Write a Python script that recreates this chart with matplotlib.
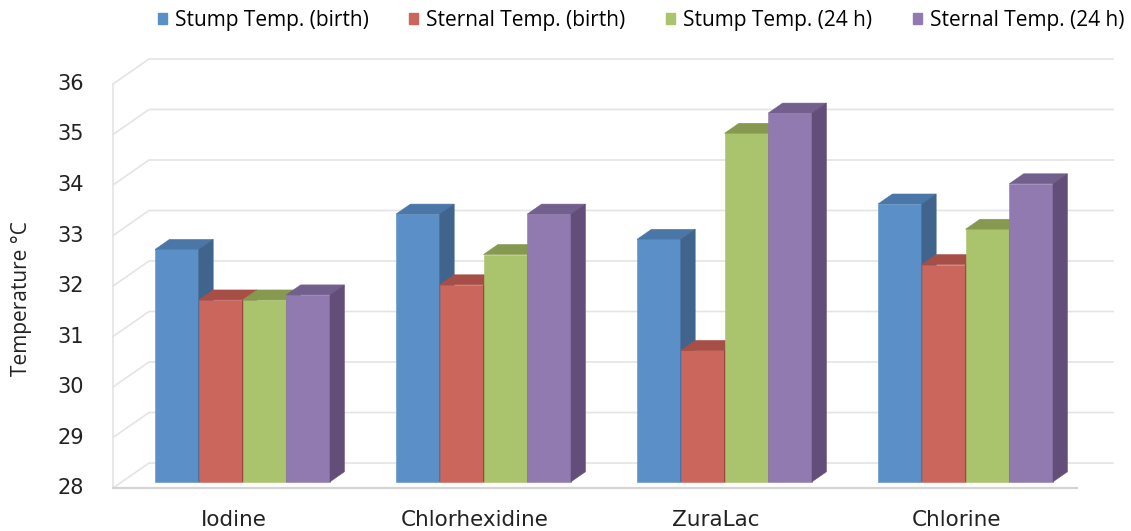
import matplotlib.pyplot as plt
from matplotlib.patches import Patch

categories = ['Iodine', 'Chlorhexidine', 'ZuraLac', 'Chlorine']
series = ['Stump Temp. (birth)', 'Sternal Temp. (birth)', 'Stump Temp. (24 h)', 'Sternal Temp. (24 h)']
stump_birth = [32.6, 33.3, 32.8, 33.5]
sternal_birth = [31.6, 31.9, 30.6, 32.3]
stump_24h = [31.6, 32.5, 34.9, 33.0]
sternal_24h = [31.7, 33.3, 35.3, 33.9]
yticks = list(range(28, 37))

values = [stump_birth, sternal_birth, stump_24h, sternal_24h]
# front, top, side colours per series
colors = [('#5b8fc7', '#4a76a8', '#41648d'),
          ('#cb665c', '#a74f47', '#8e4039'),
          ('#aac46d', '#86994e', '#72843f'),
          ('#917ab0', '#735f8d', '#634e7a')]

# oblique projection: full wall depth shifts right / up
DX, DY = 36 / 241, 25 / 50.5
D0, DB = 0.25, 0.4   # bar front depth and bar depth
W = 0.1815           # bar width
base = yticks[0]


def proj(x, v, d):
    return (x + d * DX, v + d * DY)


fig = plt.figure(figsize=(11.31, 5.31), dpi=100)
ax = fig.add_axes([0, 0, 1, 1])
ax.set_xlim(-0.969, 3.724)
ax.set_ylim(27.149, 37.663)
ax.axis('off')

left, right = -0.5, len(categories) - 0.5
grid_c = '#e4e4e4'
for v in yticks:
    pts = [proj(left, v, 0), proj(left, v, 1), proj(right, v, 1)]
    ax.plot([p[0] for p in pts], [p[1] for p in pts], color=grid_c, lw=1.2, zorder=1)
    ax.text(left - 0.12, v, str(v), ha='right', va='center', fontsize=15,
            family='DejaVu Sans', color='#222222')
ax.plot([left, left], [base, yticks[-1]], color=grid_c, lw=1.2, zorder=1)
ax.plot([left, right], [base, base], color='#d4d4d4', lw=1.6, zorder=1)

z = 2
for i in range(len(categories)):
    for j in range(len(series)):
        x0 = i - 2 * W + j * W
        x1 = x0 + W
        v = values[j][i]
        cf, ct, cs = colors[j]
        front = [proj(x0, base, D0), proj(x1, base, D0), proj(x1, v, D0), proj(x0, v, D0)]
        top = [proj(x0, v, D0), proj(x1, v, D0), proj(x1, v, D0 + DB), proj(x0, v, D0 + DB)]
        side = [proj(x1, base, D0), proj(x1, base, D0 + DB), proj(x1, v, D0 + DB), proj(x1, v, D0)]
        for poly, c in ((front, cf), (top, ct), (side, cs)):
            ax.fill([p[0] for p in poly], [p[1] for p in poly], color=c,
                    ec=c, lw=0.4, zorder=z)
        z += 1
    ax.text(i, 27.37, categories[i], ha='center', va='center', fontsize=15.5,
            family='DejaVu Sans', color='#222222')

ax.text(-0.878, 31.76, 'Temperature °C', rotation=90, ha='center', va='center',
        fontsize=15, family='Open Sans', color='#222222')

handles = [Patch(color=c[0], label=s) for c, s in zip(colors, series)]
fig.legend(handles=handles, loc='center', bbox_to_anchor=(0.567, 0.962), ncol=4,
           frameon=False, handlelength=0.42, handleheight=0.42, handletextpad=0.4,
           columnspacing=1.95, borderpad=0.1, prop={'family': 'Open Sans', 'size': 15})

fig.savefig('out.png', dpi=100)
